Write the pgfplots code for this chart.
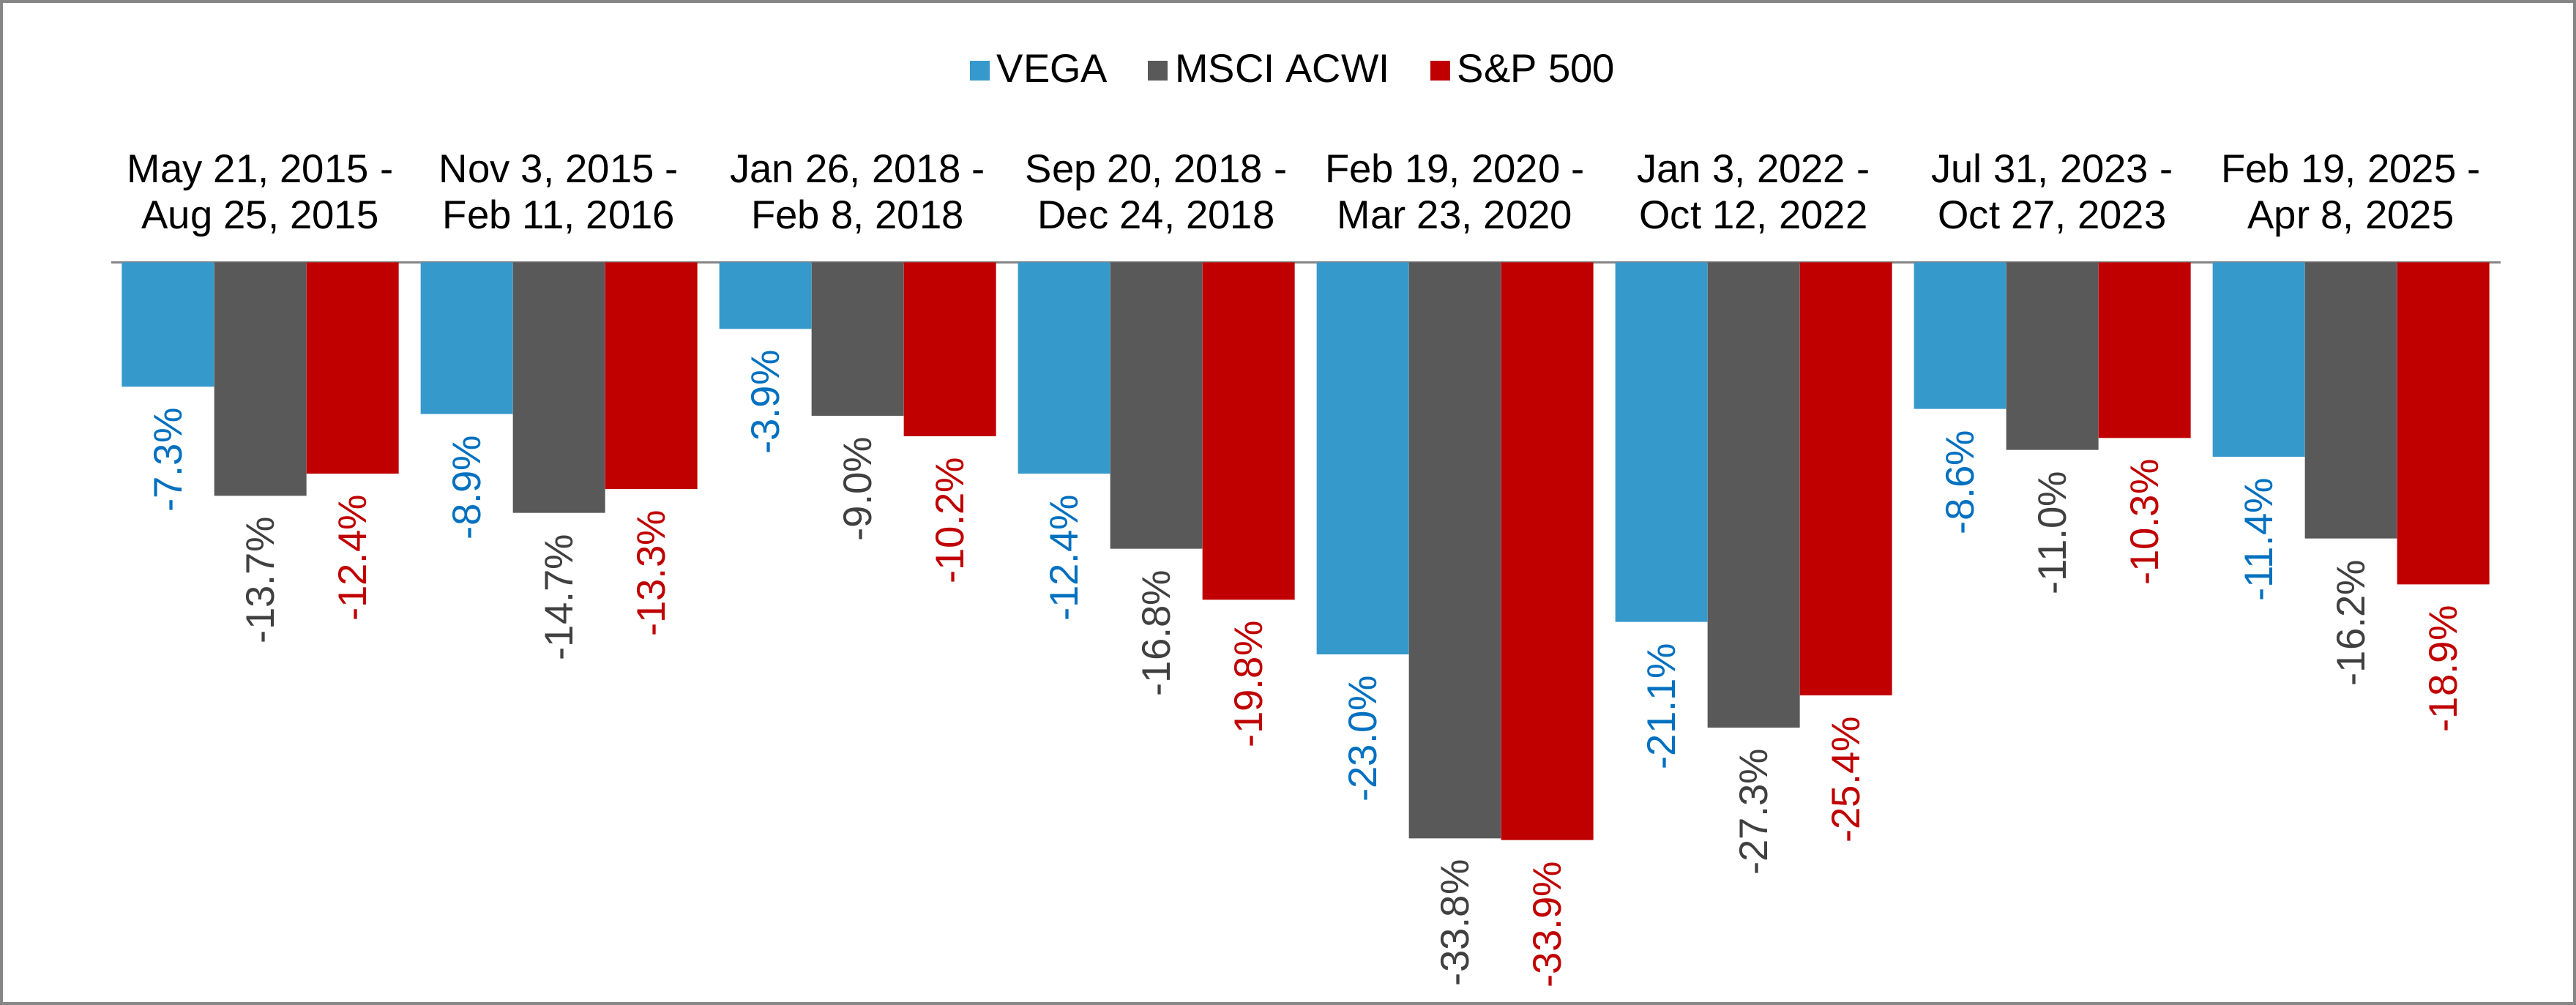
\documentclass[border=0pt]{standalone}
\usepackage{fontspec}
\setmainfont{Liberation Sans}
\usepackage{pgfplots}
\usepackage{pgfplotstable}
\pgfplotsset{compat=1.18}

\definecolor{vegabar}{RGB}{54,153,204}
\definecolor{vegatext}{RGB}{0,112,192}
\definecolor{acwibar}{RGB}{89,89,89}
\definecolor{acwitext}{RGB}{64,64,64}
\definecolor{spbar}{RGB}{192,0,0}
\definecolor{framegray}{RGB}{134,134,134}

% drawdown in percent for each period
\pgfplotstableread{
x vega acwi sp
0 -7.3 -13.7 -12.4
1 -8.9 -14.7 -13.3
2 -3.9 -9.0 -10.2
3 -12.4 -16.8 -19.8
4 -23.0 -33.8 -33.9
5 -21.1 -27.3 -25.4
6 -8.6 -11.0 -10.3
7 -11.4 -16.2 -18.9
}\drawdowns

\begin{document}
\begin{tikzpicture}
\useasboundingbox (0,0) rectangle (703.8pt,274.6pt);
\draw[framegray, line width=0.8pt] (0.4pt,0.4pt) rectangle (703.4pt,274.2pt);
\begin{axis}[
  at={(30.3pt,16.66pt)}, anchor=south west,
  scale only axis, width=652.8pt, height=186.24pt,
  xmin=-0.5, xmax=7.5, ymin=-40, ymax=0,
  clip=false,
  ybar=0pt, bar width=25.2pt,
  axis x line*=top, axis y line=none,
  x axis line style={framegray, line width=0.7pt},
  xtick={0,...,7},
  xticklabels={
    {May 21, 2015 -\\Aug 25, 2015},
    {Nov 3, 2015 -\\Feb 11, 2016},
    {Jan 26, 2018 -\\Feb 8, 2018},
    {Sep 20, 2018 -\\Dec 24, 2018},
    {Feb 19, 2020 -\\Mar 23, 2020},
    {Jan 3, 2022 -\\Oct 12, 2022},
    {Jul 31, 2023 -\\Oct 27, 2023},
    {Feb 19, 2025 -\\Apr 8, 2025}},
  major tick length=0pt,
  xticklabel style={align=center, font=\fontsize{10.9}{12.6}\selectfont,
    text depth=0.25em, yshift=3.2pt},
  ytick=\empty,
  /pgf/number format/assume math mode=true,
  nodes near coords={\pgfmathprintnumber[fixed,fixed zerofill,precision=1]{\pgfplotspointmeta}\%},
  every node near coord/.append style={rotate=90, anchor=east, inner xsep=5.6pt,
    font=\fontsize{10.9}{12.6}\selectfont},
  legend style={at={(0.496,1.281)}, anchor=center, draw=none, fill=none,
    legend columns=-1, font=\fontsize{10.9}{12.6}\selectfont,
    /tikz/every even column/.append style={column sep=9pt}},
  legend image code/.code={\fill[#1] (0pt,-2.7pt) rectangle (5.4pt,2.7pt);},
]
\addplot[fill=vegabar, draw=none, every node near coord/.append style={text=vegatext}]
  table[x=x, y=vega] {\drawdowns};
\addplot[fill=acwibar, draw=none, every node near coord/.append style={text=acwitext}]
  table[x=x, y=acwi] {\drawdowns};
\addplot[fill=spbar, draw=none, every node near coord/.append style={text=spbar}]
  table[x=x, y=sp] {\drawdowns};
\legend{VEGA, MSCI ACWI, S\&P 500}
\end{axis}
\end{tikzpicture}
\end{document}
